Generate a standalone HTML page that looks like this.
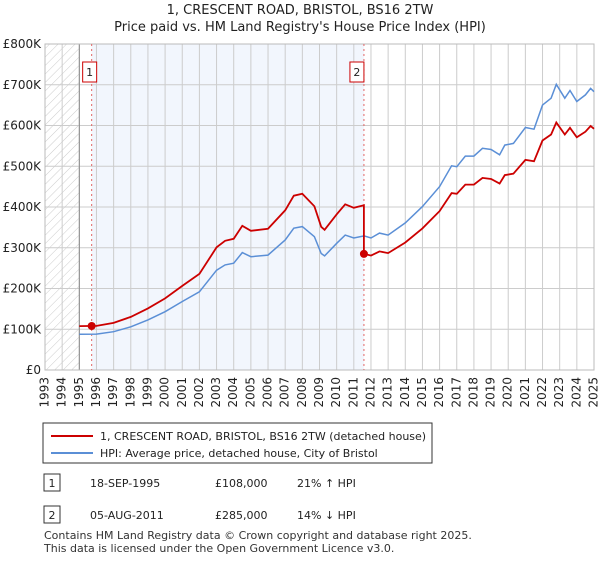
<!DOCTYPE html>
<html><head><meta charset="utf-8"><style>
body{margin:0;background:#fff;font-family:"Liberation Sans","DejaVu Sans",sans-serif;}
svg text{font-family:"DejaVu Sans","Liberation Sans",sans-serif;}
</style></head><body>
<svg id="c" width="600" height="560" viewBox="0 0 600 560">
<defs><pattern id="hatch" width="6" height="6" patternUnits="userSpaceOnUse" patternTransform="rotate(45)"><line x1="0" y1="0" x2="0" y2="6" stroke="#ccc" stroke-width="1"/></pattern></defs>
<text x="300" y="14" text-anchor="middle" font-size="13" fill="#222">1, CRESCENT ROAD, BRISTOL, BS16 2TW</text>
<text x="300" y="31" text-anchor="middle" font-size="13" fill="#222">Price paid vs. HM Land Registry's House Price Index (HPI)</text>
<g id="plot"></g>
<g>
<rect x="43" y="423" width="389" height="40" fill="#fff" stroke="#333"/>
<line x1="51" y1="436" x2="93" y2="436" stroke="#cc0000" stroke-width="2"/>
<text x="100" y="440" font-size="11" fill="#222">1, CRESCENT ROAD, BRISTOL, BS16 2TW (detached house)</text>
<line x1="51" y1="453" x2="93" y2="453" stroke="#5b8fd6" stroke-width="2"/>
<text x="100" y="457" font-size="11" fill="#222">HPI: Average price, detached house, City of Bristol</text>
</g>
<g font-size="11" fill="#222">
<rect x="44" y="474" width="16" height="17" fill="#fff" stroke="#333"/>
<text x="52" y="487" text-anchor="middle">1</text>
<text x="90" y="487">18-SEP-1995</text>
<text x="215" y="487">£108,000</text>
<text x="297" y="487">21% ↑ HPI</text>
<rect x="44" y="506" width="16" height="17" fill="#fff" stroke="#333"/>
<text x="52" y="519" text-anchor="middle">2</text>
<text x="90" y="519">05-AUG-2011</text>
<text x="215" y="519">£285,000</text>
<text x="297" y="519">14% ↓ HPI</text>
</g>
<text x="44" y="539" font-size="11" fill="#333">Contains HM Land Registry data © Crown copyright and database right 2025.</text>
<text x="44" y="552" font-size="11" fill="#333">This data is licensed under the Open Government Licence v3.0.</text>
</svg>
<script>
const hpiYears=[1995,1996,1997,1998,1999,2000,2001,2002,2003,2003.5,2004,2004.5,2005,2006,2007,2007.5,2008,2008.7,2009.1,2009.3,2010,2010.5,2011,2011.6,2012,2012.5,2013,2014,2015,2016,2016.7,2017,2017.5,2018,2018.5,2019,2019.5,2019.8,2020.3,2021,2021.5,2022,2022.5,2022.8,2023.3,2023.6,2024,2024.5,2024.8,2025];
const hpiValues=[87600,88000,94000,106000,123000,143000,168000,192000,245000,258000,262000,288000,278000,282000,319000,348000,352000,327000,286000,280000,311000,331000,324000,329000,324000,336000,331000,361000,401000,450000,501000,499000,525000,525000,544000,541000,528000,552000,556000,595000,591000,650000,667000,701000,667000,686000,659000,675000,691000,683000];
const saleYears=[1995.72,2011.59];
const salePrices=[108000,285000];
const yTicks=[0,100000,200000,300000,400000,500000,600000,700000,800000];
const yTickLabels=["£0","£100K","£200K","£300K","£400K","£500K","£600K","£700K","£800K"];
const xTicks=[1993,1994,1995,1996,1997,1998,1999,2000,2001,2002,2003,2004,2005,2006,2007,2008,2009,2010,2011,2012,2013,2014,2015,2016,2017,2018,2019,2020,2021,2022,2023,2024,2025];

const X0=45,X1=594,Y0=370,Y1=44;
const xs=y=>X0+(y-1993)/(2025-1993)*(X1-X0);
const ys=v=>Y0-v/800000*(Y0-Y1);
const NS="http://www.w3.org/2000/svg";
const g=document.getElementById('plot');
function mk(t,a){const e=document.createElementNS(NS,t);for(const k in a)e.setAttribute(k,a[k]);g.appendChild(e);return e;}
function hpiAt(y){for(let i=0;i<hpiYears.length-1;i++){if(y<=hpiYears[i+1]){const t=(y-hpiYears[i])/(hpiYears[i+1]-hpiYears[i]);return hpiValues[i]+t*(hpiValues[i+1]-hpiValues[i]);}}return hpiValues[hpiValues.length-1];}

let e=mk('rect',{x:xs(1993),y:Y1,width:xs(1995)-xs(1993),height:Y0-Y1,fill:'url(#hatch)'});


e=mk('rect',{x:xs(saleYears[0]),y:Y1,width:xs(saleYears[1])-xs(saleYears[0]),height:Y0-Y1,fill:'#f2f6fd'});



xTicks.forEach((t,i)=>{
 const l=mk('line',{x1:xs(t),x2:xs(t),y1:Y1,y2:Y0,stroke:'#cccccc','stroke-width':1});
 
 
 const x=xs(t),y=Y0+7;
 const tx=mk('text',{x:x,y:y,'font-size':12,fill:'#222','text-anchor':'end',transform:`rotate(-90 ${x} ${y})`,'dominant-baseline':'middle'});
 tx.textContent=t;
 
 
});
yTicks.forEach((t,i)=>{
 const l=mk('line',{x1:X0,x2:X1,y1:ys(t),y2:ys(t),stroke:'#cccccc','stroke-width':1});
 
 
 const tx=mk('text',{x:X0-4,y:ys(t)+4,'font-size':12,fill:'#222','text-anchor':'end'});
 tx.textContent=yTickLabels[i];
 
 
});
e=mk('line',{x1:xs(1995),x2:xs(1995),y1:Y1,y2:Y0,stroke:'#888','stroke-width':1});


e=mk('rect',{x:X0,y:Y1,width:X1-X0,height:Y0-Y1,fill:'none',stroke:'#bbb'});



saleYears.forEach((s,i)=>{
 const l=mk('line',{x1:xs(s),x2:xs(s),y1:Y1,y2:Y0,stroke:'#e06666','stroke-width':1,'stroke-dasharray':'2,3'});
 
 
 const bx=xs(s)-(i==0?10:15)+ (i==0?0:0);
 const r=mk('rect',{x:xs(s)-(i==0?9:14),y:62,width:14,height:20,fill:'#fff',stroke:'#cc0000'});
 
 
 const t=mk('text',{x:xs(s)-(i==0?2:7),y:76,'font-size':11,fill:'#222','text-anchor':'middle'});
 t.textContent=String(i+1);
 
 
});

// HPI line
let d=hpiYears.map((y,i)=>(i?'L':'M')+xs(y).toFixed(1)+','+ys(hpiValues[i]).toFixed(1)).join('');
e=mk('path',{d:d,fill:'none',stroke:'#5b8fd6','stroke-width':1.5});



// Price-paid indexed line
const r1=salePrices[0]/hpiAt(saleYears[0]),r2=salePrices[1]/hpiAt(saleYears[1]);
let pts=[];
hpiYears.forEach((y,i)=>{if(y<saleYears[1])pts.push([y,hpiValues[i]*r1]);});
pts.push([saleYears[1],hpiAt(saleYears[1])*r1]);
pts.push([saleYears[1],salePrices[1]]);
hpiYears.forEach((y,i)=>{if(y>saleYears[1])pts.push([y,hpiValues[i]*r2]);});
d=pts.map((p,i)=>(i?'L':'M')+xs(p[0]).toFixed(1)+','+ys(p[1]).toFixed(1)).join('');
e=mk('path',{d:d,fill:'none',stroke:'#cc0000','stroke-width':1.8});



saleYears.forEach((s,i)=>{
 const c=mk('circle',{cx:xs(s),cy:ys(salePrices[i]),r:4,fill:'#cc0000'});
 
 
});
</script>
</body></html>
